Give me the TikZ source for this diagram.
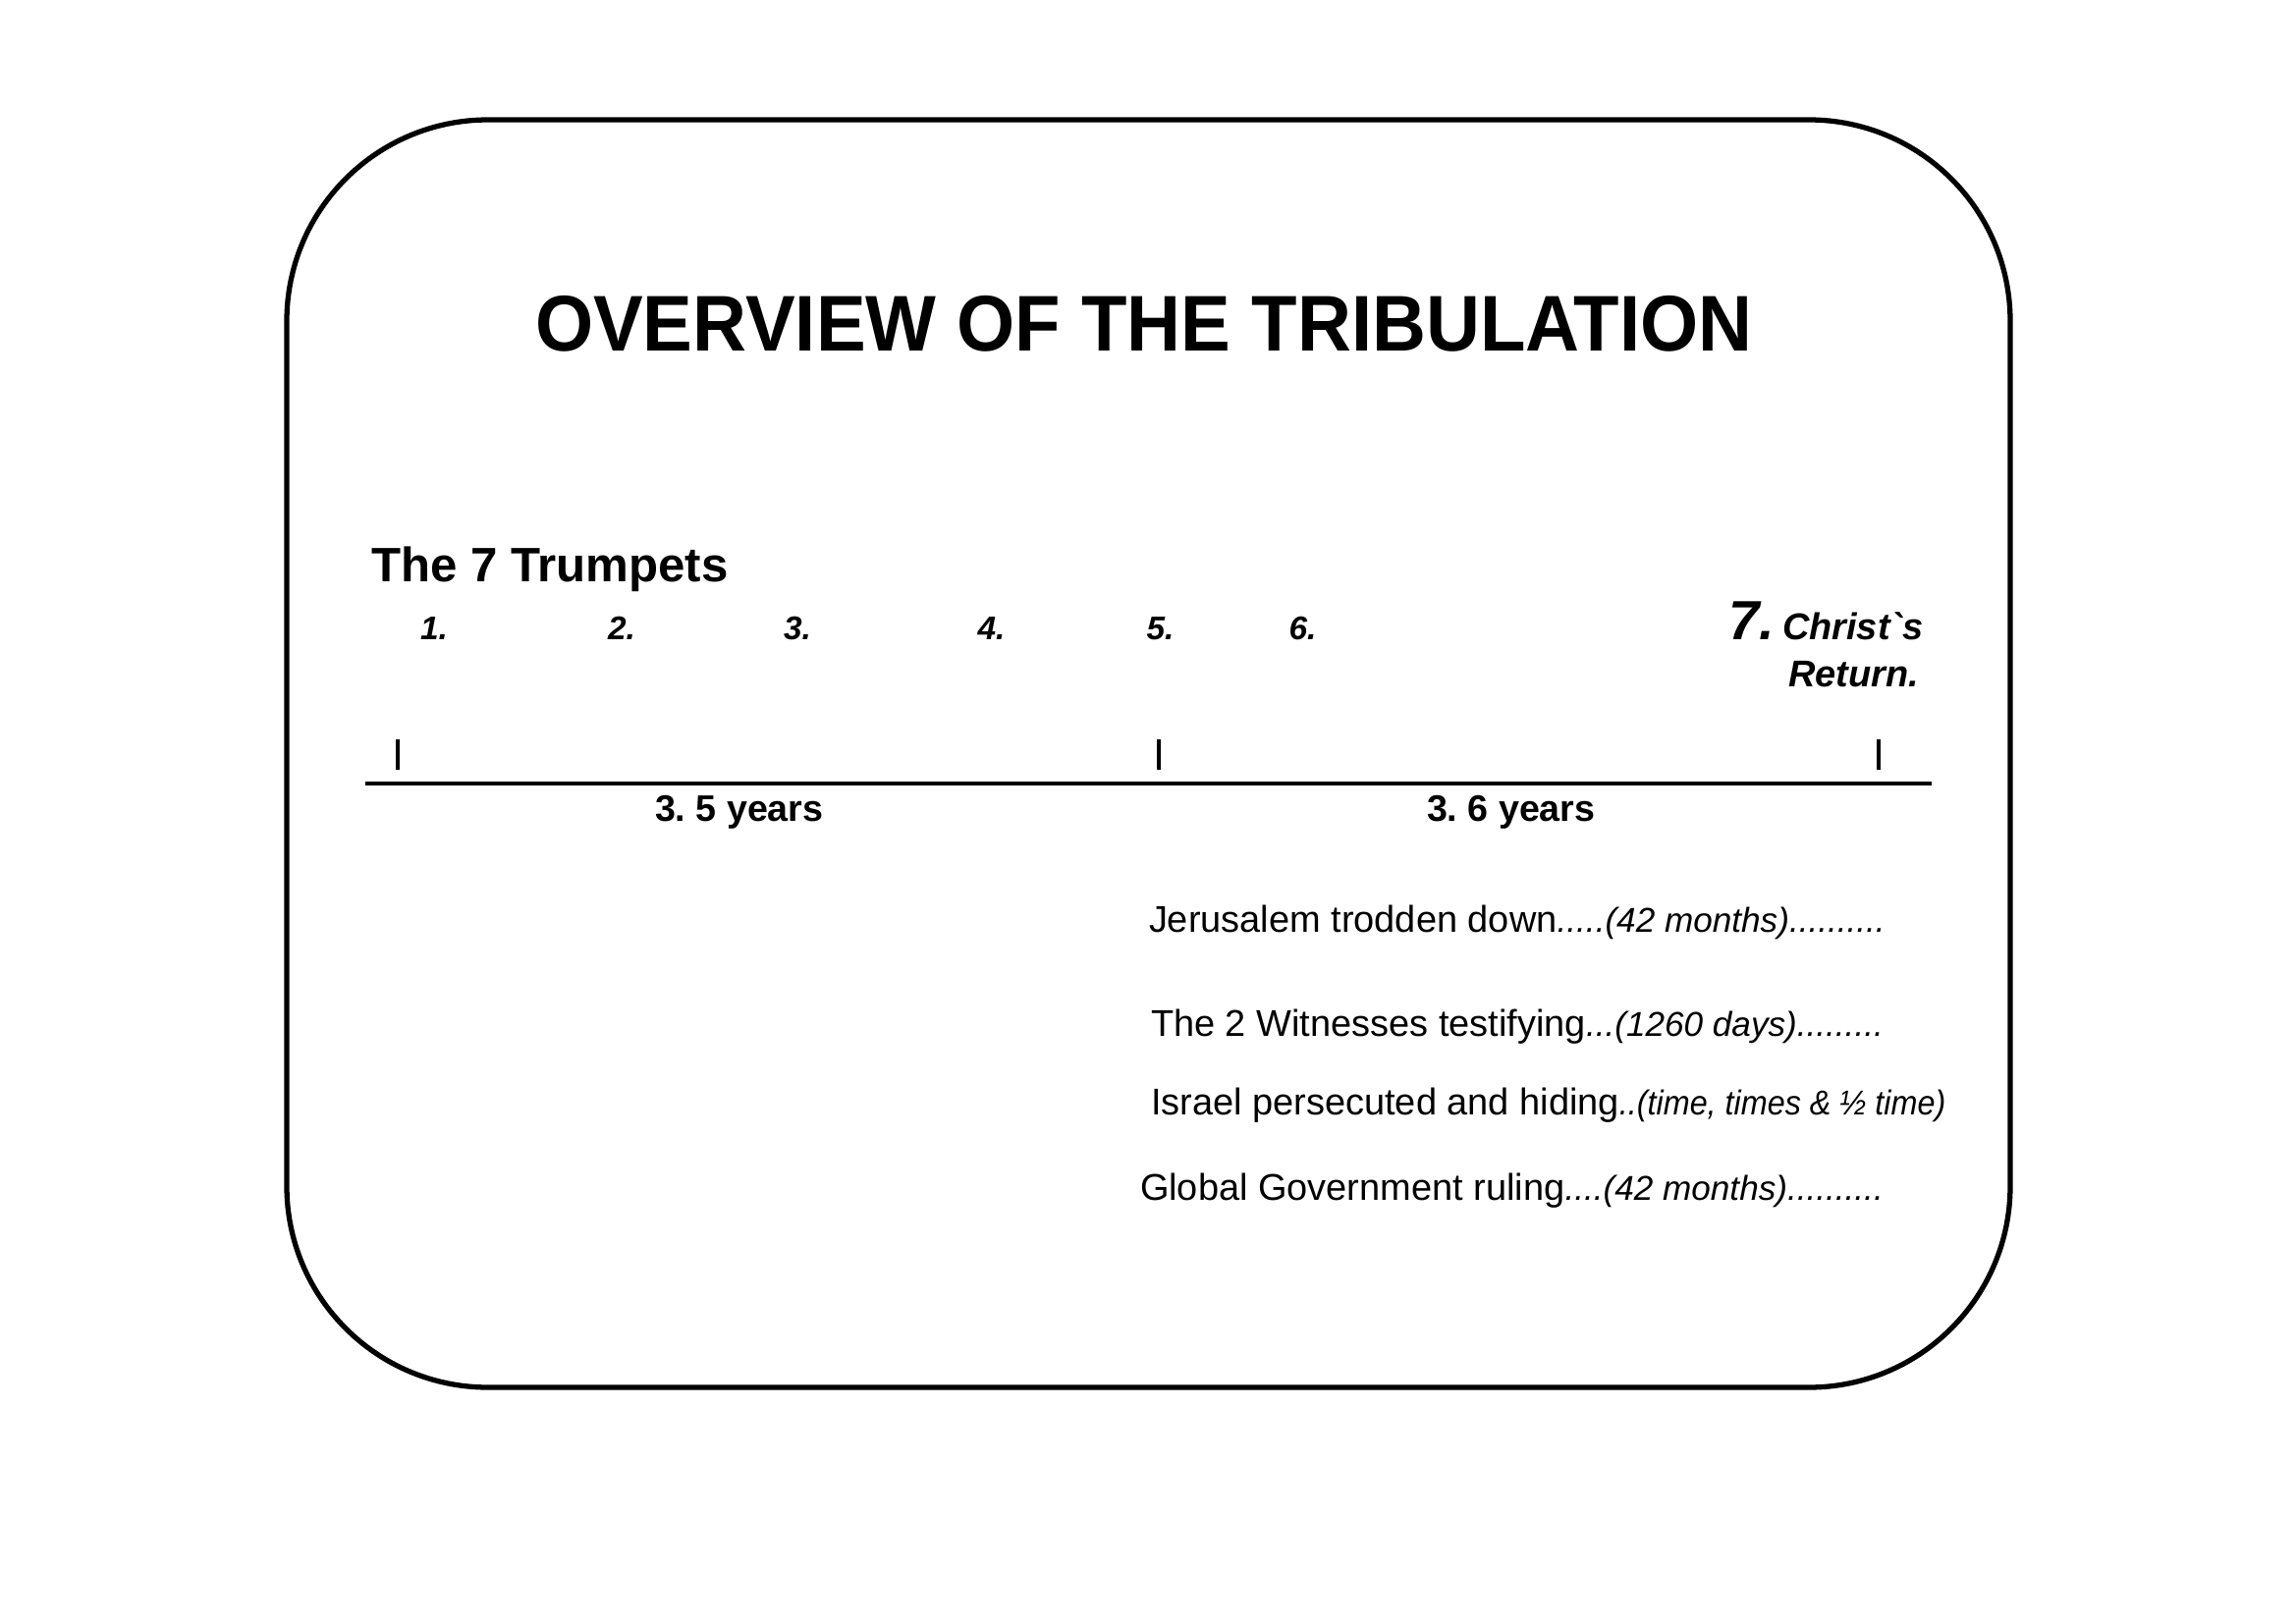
\documentclass[tikz,border=0pt]{standalone}
\usepackage{fontspec}
\usepackage{graphicx}
\setmainfont{Liberation Sans}
\newfontfamily\gravefont{Liberation Sans}
\newcommand{\itsm}{\fontsize{10}{12}\selectfont\itshape}
\frenchspacing
\begin{document}
\begin{tikzpicture}[x=1cm,y=1cm,
  every node/.style={inner sep=0pt, outer sep=0pt, anchor=base west},
  titletext/.style={font=\fontsize{22.9}{26}\selectfont\bfseries, xscale=0.945},
  headtext/.style={font=\fontsize{14}{16}\selectfont\bfseries},
  numtext/.style={font=\fontsize{9.5}{11}\selectfont\bfseries\itshape},
  bignum/.style={font=\fontsize{16}{18}\selectfont\bfseries\itshape},
  rettext/.style={font=\fontsize{10.8}{13}\selectfont\bfseries\itshape},
  yeartext/.style={font=\fontsize{10.7}{13}\selectfont\bfseries},
  bodytext/.style={font=\fontsize{10.8}{13}\selectfont},
  frame/.style={line width=1.5pt, rounded corners=2.05cm},
  axis/.style={line width=1.2pt},
  tick/.style={line width=1pt}
]
\useasboundingbox (0,0) rectangle (23.38,-16.54);
\fill[white] (0,0) rectangle (23.38,-16.54);
\draw[frame] (2.92,-1.22) rectangle (20.47,-14.13);

\node[titletext] (title) at (5.45,-3.57) {OVERVIEW OF THE TRIBULATION};
\node[headtext] (head) at (3.78,-5.92) {The 7 Trumpets};

\node[numtext] (n1) at (4.28,-6.51) {1.};
\node[numtext] (n2) at (6.19,-6.51) {2.};
\node[numtext] (n3) at (7.98,-6.51) {3.};
\node[numtext] (n4) at (9.955,-6.51) {4.};
\node[numtext] (n5) at (11.675,-6.51) {5.};
\node[numtext] (n6) at (13.125,-6.51) {6.};
\node[bignum] (n7) at (17.60,-6.51) {7.};
\node[rettext] (c1) at (18.15,-6.51) {Christ{\gravefont\bfseries\itshape `}s};
\node[rettext] (c2) at (18.21,-6.99) {Return.};

\coordinate (la) at (3.72,-7.98);
\coordinate (lb) at (19.67,-7.98);
\draw[axis] (la) -- (lb);
\coordinate (t1a) at (4.05,-7.53); \coordinate (t1b) at (4.05,-7.84);
\coordinate (t2a) at (11.80,-7.53); \coordinate (t2b) at (11.80,-7.84);
\coordinate (t3a) at (19.13,-7.53); \coordinate (t3b) at (19.13,-7.84);
\draw[tick] (t1a) -- (t1b);
\draw[tick] (t2a) -- (t2b);
\draw[tick] (t3a) -- (t3b);

\node[yeartext] (y1) at (6.67,-8.36) {3. 5 years};
\node[yeartext] (y2) at (14.53,-8.36) {3. 6 years};

\node[bodytext] (l1) at (11.70,-9.49) {Jerusalem trodden down{\itsm .....(42 months)..........}};
\node[bodytext] (l2) at (11.72,-10.55) {The 2 Witnesses testifying{\itsm ...(1260 days).........}};
\node[bodytext] (l3) at (11.72,-11.35) {Israel persecuted and hiding{\itsm \scalebox{0.92}[1]{..(time, times \& ½ time)}}};
\node[bodytext] (l4) at (11.61,-12.22) {Global Government ruling{\itsm ....(42 months)..........}};
\end{tikzpicture}
\end{document}
